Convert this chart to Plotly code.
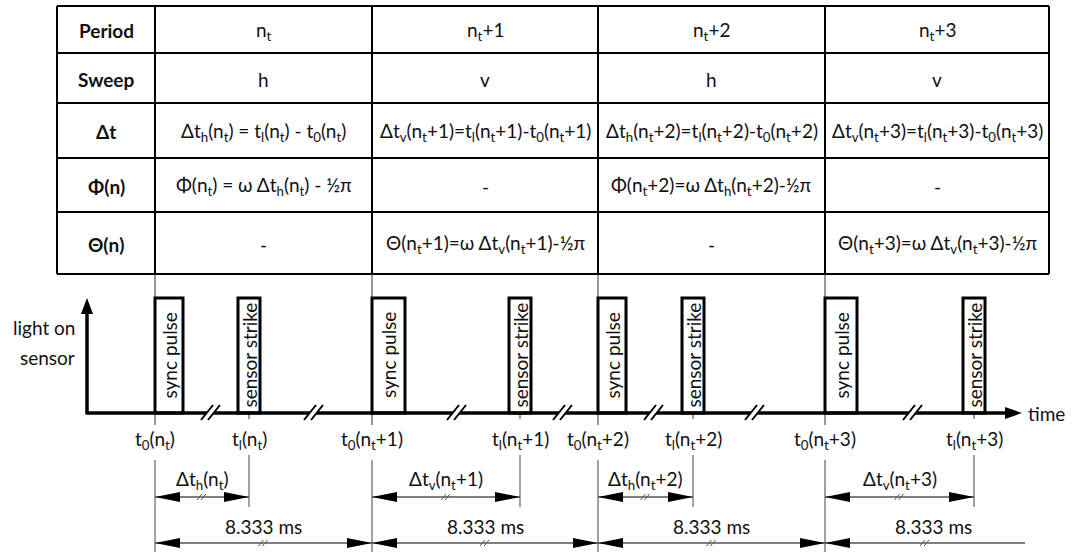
import plotly.graph_objects as go

# ---------------- data ----------------
row_heads = ["Period", "Sweep", "Δt", "Φ(n)", "Θ(n)"]
periods = ["n<sub>t</sub>", "n<sub>t</sub>+1", "n<sub>t</sub>+2", "n<sub>t</sub>+3"]
sweeps = ["h", "v", "h", "v"]
dts = ["Δt<sub>h</sub>(n<sub>t</sub>) = t<sub>l</sub>(n<sub>t</sub>) - t<sub>0</sub>(n<sub>t</sub>)",
       "Δt<sub>v</sub>(n<sub>t</sub>+1)=t<sub>l</sub>(n<sub>t</sub>+1)-t<sub>0</sub>(n<sub>t</sub>+1)",
       "Δt<sub>h</sub>(n<sub>t</sub>+2)=t<sub>l</sub>(n<sub>t</sub>+2)-t<sub>0</sub>(n<sub>t</sub>+2)",
       "Δt<sub>v</sub>(n<sub>t</sub>+3)=t<sub>l</sub>(n<sub>t</sub>+3)-t<sub>0</sub>(n<sub>t</sub>+3)"]
phis = ["Φ(n<sub>t</sub>) = ω Δt<sub>h</sub>(n<sub>t</sub>) - ½π", "-",
        "Φ(n<sub>t</sub>+2)=ω Δt<sub>h</sub>(n<sub>t</sub>+2)-½π", "-"]
thetas = ["-", "Θ(n<sub>t</sub>+1)=ω Δt<sub>v</sub>(n<sub>t</sub>+1)-½π", "-",
          "Θ(n<sub>t</sub>+3)=ω Δt<sub>v</sub>(n<sub>t</sub>+3)-½π"]
t0_labels = ["t<sub>0</sub>(n<sub>t</sub>)", "t<sub>0</sub>(n<sub>t</sub>+1)",
             "t<sub>0</sub>(n<sub>t</sub>+2)", "t<sub>0</sub>(n<sub>t</sub>+3)"]
tl_labels = ["t<sub>l</sub>(n<sub>t</sub>)", "t<sub>l</sub>(n<sub>t</sub>+1)",
             "t<sub>l</sub>(n<sub>t</sub>+2)", "t<sub>l</sub>(n<sub>t</sub>+3)"]
dt_labels = ["Δt<sub>h</sub>(n<sub>t</sub>)", "Δt<sub>v</sub>(n<sub>t</sub>+1)",
             "Δt<sub>h</sub>(n<sub>t</sub>+2)", "Δt<sub>v</sub>(n<sub>t</sub>+3)"]
period_label = "8.333 ms"

# event times on the (broken) schematic time axis
t0_time = [155, 372, 598, 825]          # sync pulse start
tl_time = [249, 520, 693, 974]          # sensor strike
sync_len = [28, 33, 28, 32]             # sync pulse duration
break_time = [212, 315, 458, 564, 655, 756, 914]
axis_end_time = 1025

# ---------------- layout constants ----------------
FONT = "Lato"
FS = 19
col_edges = [57, 155, 372, 598, 825, 1049]
row_edges = [6, 53, 103, 158, 212, 274]
AX_Y = 413
PULSE_TOP = 298
AX_X = 87
STRIKE_W = 22

shapes = []
ann = []

def line(x0, y0, x1, y1, w=2, c="black"):
    shapes.append(dict(type="line", x0=x0, y0=y0, x1=x1, y1=y1, xref="x", yref="y",
                       line=dict(color=c, width=w)))

def path(d, fill="black", lc="black", w=0):
    shapes.append(dict(type="path", path=d, xref="x", yref="y", fillcolor=fill,
                       line=dict(color=lc, width=w)))

def text(x, y, s, size=FS, bold=False, angle=0, xanchor="center", color="#111"):
    ann.append(dict(x=x, y=y, xref="x", yref="y", text=("<b>%s</b>" % s) if bold else s,
                    showarrow=False, xanchor=xanchor, yanchor="middle", textangle=angle,
                    font=dict(family=FONT, size=size, color=color)))

# ---- table ----
for y in row_edges:
    line(col_edges[0], y, col_edges[-1], y, 2)
for x in col_edges:
    line(x, row_edges[0], x, row_edges[-1], 2)
rows = [periods, sweeps, dts, phis, thetas]
for r, (head, vals) in enumerate(zip(row_heads, rows)):
    yc = (row_edges[r] + row_edges[r + 1]) / 2 + 1
    text((col_edges[0] + col_edges[1]) / 2, yc, head, bold=True)
    for c, v in enumerate(vals):
        text((col_edges[c + 1] + col_edges[c + 2]) / 2, yc, v)

# ---- thin guide lines from the table to the axis ----
for t in t0_time:
    line(t, row_edges[-1], t, 425, 1, "#333")
for t in tl_time:
    line(t, AX_Y, t, 419, 1, "#333")

# ---- pulses ----
for t, w in zip(t0_time, sync_len):
    shapes.append(dict(type="rect", x0=t, x1=t + w, y0=PULSE_TOP, y1=AX_Y, xref="x", yref="y",
                       fillcolor="white", line=dict(color="black", width=3)))
    text(t + w / 2, (PULSE_TOP + AX_Y) / 2, "sync pulse", size=19, angle=-90)
for t in tl_time:
    shapes.append(dict(type="rect", x0=t - STRIKE_W / 2, x1=t + STRIKE_W / 2, y0=PULSE_TOP, y1=AX_Y,
                       xref="x", yref="y", fillcolor="white", line=dict(color="black", width=3)))
    text(t, (PULSE_TOP + AX_Y) / 2, "sensor strike", size=19, angle=-90)

# ---- axes ----
line(AX_X, AX_Y, 1008, AX_Y, 3.5)
path("M 1005 %f L 1022 %f L 1005 %f Z" % (AX_Y - 6, AX_Y, AX_Y + 6))
line(AX_X, AX_Y + 1.5, AX_X, 312, 3.5)
path("M %f 314 L %f 298 L %f 314 Z" % (AX_X - 6, AX_X, AX_X + 6))
text(1026, AX_Y, "time", xanchor="left")
text(77, 327, "light on", xanchor="right")
text(77, 357, "sensor", xanchor="right")

# axis breaks
for b in break_time:
    path("M %f 420 L %f 405 L %f 405 L %f 420 Z" % (b - 10, b + 1, b + 8, b - 3), fill="white", lc="white", w=0)
    line(b - 11, 420, b + 1, 405, 2)
    line(b - 4, 420, b + 8, 405, 2)

# ---- event labels ----
for t, s in zip(t0_time, t0_labels):
    text(t, 440, s)
for t, s in zip(tl_time, tl_labels):
    text(t, 440, s)

# ---- dimension lines ----
GRAY = "#555"
def dim(xa, xb, y, left=True, right=True):
    line(xa, y, xb, y, 1.3, GRAY)
    if left:
        path("M %f %f L %f %f L %f %f Z" % (xa, y, xa + 25, y - 5, xa + 25, y + 5))
    if right:
        path("M %f %f L %f %f L %f %f Z" % (xb, y, xb - 25, y - 5, xb - 25, y + 5))
    m = (xa + xb) / 2
    for dx in (-3, 1):
        line(m + dx - 2, y + 3, m + dx + 3, y - 3, 1, GRAY)

for t in t0_time:
    line(t, 460, t, 552, 1, "#444")
for t in tl_time:
    line(t, 455, t, 507, 1, "#444")

for i in range(4):
    dim(t0_time[i], tl_time[i], 497)
    text((t0_time[i] + tl_time[i]) / 2, 480, dt_labels[i])
    if i < 3:
        dim(t0_time[i], t0_time[i + 1], 543)
        text((t0_time[i] + t0_time[i + 1]) / 2, 526, period_label)
    else:
        dim(t0_time[i], axis_end_time, 543, right=False)
        text((t0_time[i] + axis_end_time) / 2 + 8, 526, period_label)

fig = go.Figure()
fig.update_layout(
    width=1079, height=552, margin=dict(l=0, r=0, t=0, b=0),
    paper_bgcolor="white", plot_bgcolor="white", showlegend=False,
    xaxis=dict(range=[0, 1079], visible=False, fixedrange=True),
    yaxis=dict(range=[552, 0], visible=False, fixedrange=True),
    shapes=shapes, annotations=ann,
)
fig.write_html("out.html", config={"displayModeBar": False},
               post_script="document.body.style.margin='0px';document.body.style.overflow='hidden';")
